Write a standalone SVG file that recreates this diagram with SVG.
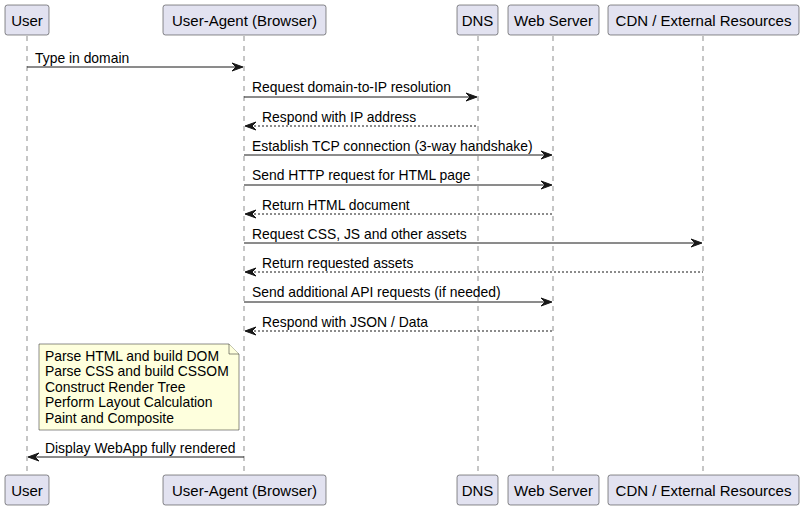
<svg xmlns="http://www.w3.org/2000/svg" width="804" height="510" viewBox="0 0 804 510">
<style>
.part rect{fill:#E2E2F0;stroke:#181818;stroke-width:0.5}
.part text{font-family:"Liberation Sans",Arial,sans-serif;font-size:15px;fill:#000}
.life{stroke:#181818;stroke-width:0.5;stroke-dasharray:5,5;fill:none}
.msg{stroke:#181818;stroke-width:1;fill:none}
.ret{stroke:#181818;stroke-width:1;stroke-dasharray:2,2;fill:none}
.head{fill:#181818;stroke:#181818;stroke-width:1}
.lbl{font-family:"Liberation Sans",Arial,sans-serif;font-size:13.9px;fill:#000}
.note path{fill:#FEFFDD;stroke:#181818;stroke-width:0.5}
</style>
<rect width="804" height="510" fill="#FFFFFF"/>
<g id="lifelines">
<line class="life" x1="27" y1="36" x2="27" y2="475"/>
<line class="life" x1="244" y1="36" x2="244" y2="475"/>
<line class="life" x1="478" y1="36" x2="478" y2="475"/>
<line class="life" x1="553" y1="36" x2="553" y2="475"/>
<line class="life" x1="703" y1="36" x2="703" y2="475"/>
</g>
<g id="p-user" class="part">
<rect x="5" y="5" width="44" height="30" rx="2.5"/>
<text x="27" y="26" text-anchor="middle">User</text>
<rect x="5" y="475" width="44" height="30" rx="2.5"/>
<text x="27" y="496" text-anchor="middle">User</text>
</g>
<g id="p-agent" class="part">
<rect x="163" y="5" width="163" height="30" rx="2.5"/>
<text x="244.5" y="26" text-anchor="middle">User-Agent (Browser)</text>
<rect x="163" y="475" width="163" height="30" rx="2.5"/>
<text x="244.5" y="496" text-anchor="middle">User-Agent (Browser)</text>
</g>
<g id="p-dns" class="part">
<rect x="457" y="5" width="41" height="30" rx="2.5"/>
<text x="477.5" y="26" text-anchor="middle">DNS</text>
<rect x="457" y="475" width="41" height="30" rx="2.5"/>
<text x="477.5" y="496" text-anchor="middle">DNS</text>
</g>
<g id="p-web" class="part">
<rect x="508" y="5" width="91" height="30" rx="2.5"/>
<text x="553.5" y="26" text-anchor="middle">Web Server</text>
<rect x="508" y="475" width="91" height="30" rx="2.5"/>
<text x="553.5" y="496" text-anchor="middle">Web Server</text>
</g>
<g id="p-cdn" class="part">
<rect x="608" y="5" width="191" height="30" rx="2.5"/>
<text x="703.5" y="26" text-anchor="middle">CDN / External Resources</text>
<rect x="608" y="475" width="191" height="30" rx="2.5"/>
<text x="703.5" y="496" text-anchor="middle">CDN / External Resources</text>
</g>
<g id="connectors">
<line class="msg" x1="27" y1="67" x2="242" y2="67"/>
<polygon class="head" points="232,63 243,67 232,71 236,67"/>
<text class="lbl" x="35" y="62.5">Type in domain</text>

<line class="msg" x1="244" y1="97" x2="476" y2="97"/>
<polygon class="head" points="466,93 477,97 466,101 470,97"/>
<text class="lbl" x="252" y="92">Request domain-to-IP resolution</text>

<line class="ret" x1="246" y1="126" x2="478" y2="126"/>
<polygon class="head" points="256,122 245,126 256,130 252,126"/>
<text class="lbl" x="262" y="121.5">Respond with IP address</text>

<line class="msg" x1="244" y1="155" x2="551" y2="155"/>
<polygon class="head" points="541,151 552,155 541,159 545,155"/>
<text class="lbl" x="252" y="150.5">Establish TCP connection (3-way handshake)</text>

<line class="msg" x1="244" y1="185" x2="551" y2="185"/>
<polygon class="head" points="541,181 552,185 541,189 545,185"/>
<text class="lbl" x="252" y="180">Send HTTP request for HTML page</text>

<line class="ret" x1="246" y1="214" x2="553" y2="214"/>
<polygon class="head" points="256,210 245,214 256,218 252,214"/>
<text class="lbl" x="262" y="209.5">Return HTML document</text>

<line class="msg" x1="244" y1="243" x2="701" y2="243"/>
<polygon class="head" points="691,239 702,243 691,247 695,243"/>
<text class="lbl" x="252" y="238.5">Request CSS, JS and other assets</text>

<line class="ret" x1="246" y1="272" x2="703" y2="272"/>
<polygon class="head" points="256,268 245,272 256,276 252,272"/>
<text class="lbl" x="262" y="267.5">Return requested assets</text>

<line class="msg" x1="244" y1="302" x2="551" y2="302"/>
<polygon class="head" points="541,298 552,302 541,306 545,302"/>
<text class="lbl" x="252" y="297">Send additional API requests (if needed)</text>

<line class="ret" x1="246" y1="331" x2="553" y2="331"/>
<polygon class="head" points="256,327 245,331 256,335 252,331"/>
<text class="lbl" x="262" y="326.5">Respond with JSON / Data</text>

<line class="msg" x1="29" y1="457" x2="244" y2="457"/>
<polygon class="head" points="39,453 28,457 39,461 35,457"/>
<text class="lbl" x="45" y="452.5">Display WebApp fully rendered</text>
</g>
<g id="note" class="note">
<path d="M39,344 L229,344 L239,354 L239,430 L39,430 Z"/>
<path d="M229,344 L229,354 L239,354"/>
<text class="lbl" x="45" y="360.5">Parse HTML and build DOM</text>
<text class="lbl" x="45" y="376.1">Parse CSS and build CSSOM</text>
<text class="lbl" x="45" y="391.7">Construct Render Tree</text>
<text class="lbl" x="45" y="407.3">Perform Layout Calculation</text>
<text class="lbl" x="45" y="422.9">Paint and Composite</text>
</g>
</svg>
